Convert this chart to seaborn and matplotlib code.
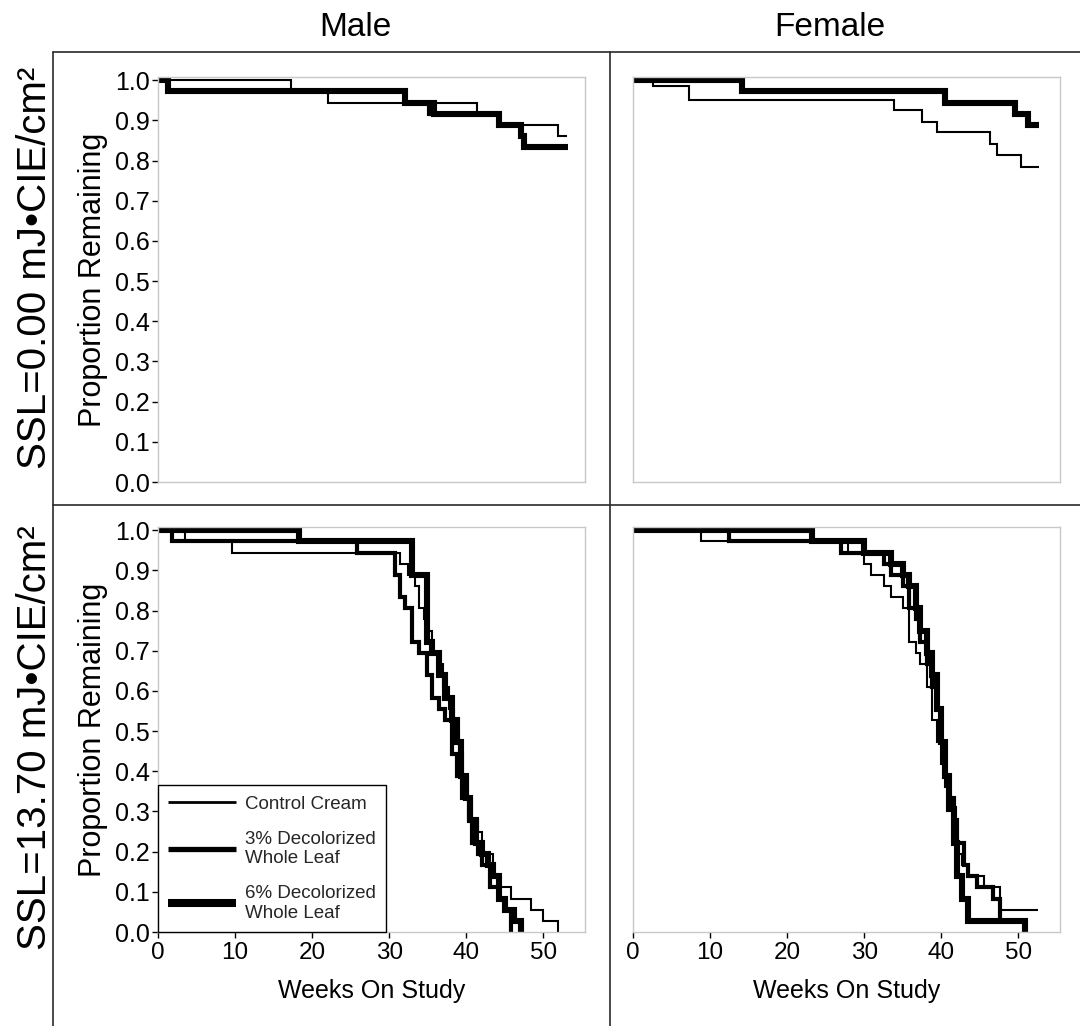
import numpy as np
import pandas as pd
import seaborn as sns
import matplotlib
matplotlib.use("Agg")
import matplotlib.pyplot as plt
from matplotlib.lines import Line2D

# ---------------- data (Kaplan-Meier step curves) ----------------
columns = ["Male", "Female"]
rows = ["SSL=0.00 mJ•CIE/cm²", "SSL=13.70 mJ•CIE/cm²"]
groups = ["Control Cream", "3% Decolorized\nWhole Leaf", "6% Decolorized\nWhole Leaf"]
x_ticks = [0, 10, 20, 30, 40, 50]
y_ticks = [0.0, 0.1, 0.2, 0.3, 0.4, 0.5, 0.6, 0.7, 0.8, 0.9, 1.0]

# Male, SSL=0.00
m0_ctrl_t = [0, 17.3, 22.0, 41.4, 44.3, 51.9, 53.0]
m0_ctrl_s = [1.0, 0.972, 0.944, 0.917, 0.889, 0.861, 0.861]
m0_p3_t = [0, 1.3, 32.1, 35.1, 44.3, 47.1, 47.5, 53.2]
m0_p3_s = [1.0, 0.972, 0.944, 0.917, 0.889, 0.861, 0.833, 0.833]
m0_p6_t = [0, 1.3, 32.1, 35.8, 44.3, 47.1, 47.5, 53.2]
m0_p6_s = [1.0, 0.972, 0.944, 0.917, 0.889, 0.861, 0.833, 0.833]

# Female, SSL=0.00
f0_ctrl_t = [0, 2.6, 7.3, 33.9, 37.5, 39.5, 46.3, 47.2, 50.4, 52.7]
f0_ctrl_s = [1.0, 0.985, 0.952, 0.925, 0.897, 0.870, 0.842, 0.813, 0.785, 0.785]
f0_p3_t = [0, 14.2, 40.5, 49.5, 51.2, 52.7]
f0_p3_s = [1.0, 0.972, 0.944, 0.917, 0.889, 0.889]
f0_p6_t = [0, 14.2, 40.5, 49.5, 51.2, 52.7]
f0_p6_s = [1.0, 0.972, 0.944, 0.917, 0.889, 0.889]

# Male, SSL=13.70
m1_ctrl_t = [0, 3.5, 9.6, 31.4, 32.5, 33.3, 33.8, 34.5, 35.0, 35.6, 36.4, 37.0, 37.8, 38.4, 39.0,
             39.6, 40.2, 40.8, 41.5, 42.1, 43.4, 44.3, 45.8, 48.4, 49.9, 51.9]
m1_ctrl_s = [1.0, 0.972, 0.944, 0.917, 0.889, 0.861, 0.806, 0.778, 0.750, 0.694, 0.667, 0.611, 0.556,
             0.500, 0.444, 0.389, 0.333, 0.278, 0.250, 0.194, 0.139, 0.111, 0.083, 0.056, 0.028, 0.0]
m1_p3_t = [0, 1.8, 25.8, 30.8, 31.4, 32.0, 32.9, 33.8, 34.9, 35.6, 36.4, 37.3, 38.2, 38.8, 39.5,
           40.3, 40.8, 41.5, 42.1, 43.1, 44.3, 45.0, 45.8]
m1_p3_s = [1.0, 0.972, 0.944, 0.889, 0.833, 0.806, 0.722, 0.694, 0.639, 0.583, 0.556, 0.528, 0.444,
           0.389, 0.333, 0.278, 0.222, 0.194, 0.167, 0.111, 0.083, 0.056, 0.0]
m1_p6_t = [0, 18.3, 32.9, 34.9, 35.6, 36.4, 37.3, 38.2, 38.8, 39.3, 39.9, 40.5, 41.2, 42.1, 42.8,
           43.4, 44.3, 45.0, 46.2, 47.1]
m1_p6_s = [1.0, 0.972, 0.889, 0.722, 0.694, 0.639, 0.583, 0.528, 0.472, 0.389, 0.333, 0.278, 0.222,
           0.194, 0.167, 0.139, 0.083, 0.056, 0.028, 0.0]

# Female, SSL=13.70
f1_ctrl_t = [0, 8.8, 27.9, 30.0, 30.9, 32.6, 33.5, 35.0, 35.8, 36.7, 37.3, 38.2, 38.8, 39.4, 39.9,
             40.5, 41.0, 41.6, 42.1, 42.7, 43.5, 45.5, 47.6, 52.5]
f1_ctrl_s = [1.0, 0.972, 0.944, 0.917, 0.889, 0.861, 0.833, 0.806, 0.722, 0.694, 0.667, 0.611, 0.528,
             0.472, 0.417, 0.361, 0.306, 0.250, 0.194, 0.167, 0.139, 0.111, 0.056, 0.056]
f1_p3_t = [0, 12.5, 27.0, 32.6, 33.5, 35.0, 35.8, 36.7, 37.3, 38.2, 38.8, 39.4, 39.9, 40.5, 41.0,
           41.6, 42.1, 42.9, 43.5, 44.6, 46.7, 47.6, 50.8]
f1_p3_s = [1.0, 0.972, 0.944, 0.917, 0.889, 0.861, 0.806, 0.778, 0.722, 0.667, 0.611, 0.556, 0.472,
           0.389, 0.333, 0.278, 0.222, 0.167, 0.139, 0.111, 0.083, 0.028, 0.028]
f1_p6_t = [0, 23.2, 30.0, 33.5, 35.0, 35.8, 36.7, 37.3, 38.2, 38.8, 39.4, 39.9, 40.5, 41.0, 41.6,
           42.1, 42.7, 43.5, 50.8]
f1_p6_s = [1.0, 0.972, 0.944, 0.917, 0.889, 0.861, 0.806, 0.750, 0.694, 0.639, 0.556, 0.472, 0.389,
           0.306, 0.222, 0.139, 0.083, 0.028, 0.0]

panels = [
    [[(m0_ctrl_t, m0_ctrl_s), (m0_p3_t, m0_p3_s), (m0_p6_t, m0_p6_s)],
     [(f0_ctrl_t, f0_ctrl_s), (f0_p3_t, f0_p3_s), (f0_p6_t, f0_p6_s)]],
    [[(m1_ctrl_t, m1_ctrl_s), (m1_p3_t, m1_p3_s), (m1_p6_t, m1_p6_s)],
     [(f1_ctrl_t, f1_ctrl_s), (f1_p3_t, f1_p3_s), (f1_p6_t, f1_p6_s)]],
]

# ---------------- styling ----------------
sns.set_theme(style="white")
plt.rcParams["font.family"] = ["Liberation Sans", "DejaVu Sans"]

W, H = 1080, 1026
fig = plt.figure(figsize=(W / 100, H / 100), dpi=100)
fig.patch.set_facecolor("white")

def fx(px):
    return px / W

def fy(py):
    return 1 - py / H

line_w = [1.5, 3.0, 4.4]
legend_w = [2.0, 3.8, 5.8]
row_px = [(77, 482), (527, 932)]
col_px = [(158, 585), (633, 1060)]
spine_col = "#c8c8c8"

axes = [[None, None], [None, None]]
for r, (top, bot) in enumerate(row_px):
    for c, (lft, rgt) in enumerate(col_px):
        ax = fig.add_axes([fx(lft), fy(bot), (rgt - lft) / W, (bot - top) / H])
        axes[r][c] = ax
        # draw thickest first
        for g in [2, 1, 0]:
            t, s = panels[r][c][g]
            df = pd.DataFrame({"week": t, "surv": s})
            sns.lineplot(data=df, x="week", y="surv", ax=ax, color="black",
                         linewidth=line_w[g], drawstyle="steps-post",
                         estimator=None, sort=False, legend=False,
                         solid_joinstyle="miter", solid_capstyle="butt")
        ax.set_xlim(0, 55.4)
        ax.set_ylim(0, 1.008)
        ax.set_xticks(x_ticks)
        ax.set_yticks(y_ticks)
        ax.set_xlabel("")
        ax.set_ylabel("")
        for sp in ax.spines.values():
            sp.set_color(spine_col)
            sp.set_linewidth(1.0)
        ax.set_facecolor("white")
        if r == 1:
            ax.tick_params(axis="x", bottom=True, length=4, width=1, color="black",
                           labelsize=17.5, pad=3, labelcolor="black")
            ax.set_xlabel("Weeks On Study", fontsize=18, color="black")
            ax.xaxis.set_label_coords(0.5, -(979 - 932) / (bot - top))
            ax.xaxis.label.set_va("top")
        else:
            ax.tick_params(axis="x", bottom=False, labelbottom=False)
        if c == 0:
            ax.set_yticklabels([f"{v:.1f}" for v in y_ticks])
            ax.tick_params(axis="y", left=True, length=4, width=1, color="black",
                           labelsize=18, pad=2, labelcolor="black")
            ax.set_ylabel("Proportion Remaining", fontsize=22, color="black")
            ax.yaxis.set_label_coords(-(158 - 108) / (rgt - lft), 0.5)
        else:
            ax.tick_params(axis="y", left=False, labelleft=False)

# legend in lower-left panel
handles = [Line2D([], [], color="black", lw=legend_w[g], solid_capstyle="butt") for g in range(3)]
leg = axes[1][0].legend(handles, groups, loc="lower left", bbox_to_anchor=(0, 0),
                        borderaxespad=0, frameon=True, fancybox=False, edgecolor="black",
                        fontsize=13.5, handlelength=3.6, handletextpad=0.5,
                        labelspacing=0.95, borderpad=0.55)
leg.get_frame().set_linewidth(1.0)
leg.get_frame().set_alpha(1)

# outer lattice frame
for (x0, y0, x1, y1) in [(53, 52, 1080, 52), (53, 52, 53, 1026),
                         (610, 52, 610, 1026), (53, 505, 1080, 505)]:
    fig.add_artist(Line2D([fx(x0), fx(x1)], [fy(y0), fy(y1)], transform=fig.transFigure,
                          color="#2a2a2a", lw=1.2))

# column and row headers
fig.text(fx(355), fy(27), columns[0], ha="center", va="center", fontsize=24, color="black")
fig.text(fx(830), fy(27), columns[1], ha="center", va="center", fontsize=24, color="black")
fig.text(fx(35), fy(268), rows[0], ha="center", va="center", rotation=90, fontsize=29, color="black")
fig.text(fx(35), fy(738), rows[1], ha="center", va="center", rotation=90, fontsize=29, color="black")

fig.savefig("out.png", dpi=100, facecolor="white")
